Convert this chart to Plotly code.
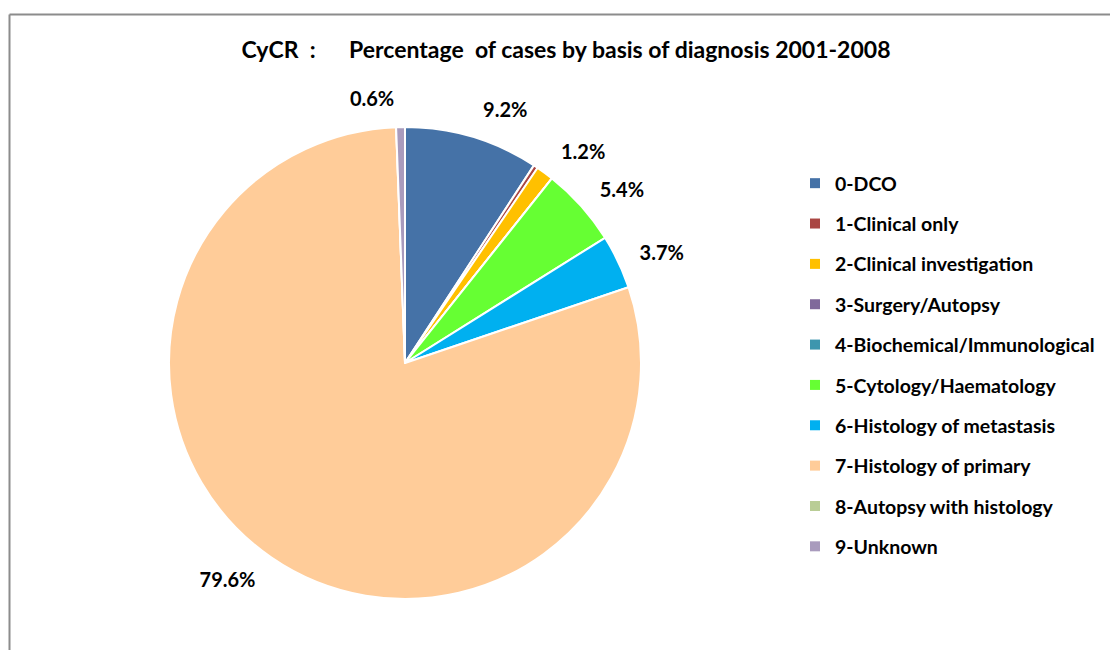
import plotly.graph_objects as go

categories = ["0-DCO", "1-Clinical only", "2-Clinical investigation", "3-Surgery/Autopsy",
              "4-Biochemical/Immunological", "5-Cytology/Haematology", "6-Histology of metastasis",
              "7-Histology of primary", "8-Autopsy with histology", "9-Unknown"]
values = [9.2, 0.3, 1.2, 0.0, 0.0, 5.4, 3.7, 79.6, 0.0, 0.6]
shown_labels = ["9.2%", "", "1.2%", "", "", "5.4%", "3.7%", "79.6%", "", "0.6%"]
colors = ["#4572A7", "#AA4643", "#FFC000", "#80699B", "#3D96AE", "#66FF33", "#00B0F0",
          "#FFCC99", "#B9CD96", "#A99BBD"]

W, H = 1110, 650
FONT = "Lato"
CX, CY, R = 405, 363, 236
R_TXT = 253  # radius of the invisible label ring

def dom(r):
    return dict(x=[(CX - r) / W, (CX + r) / W], y=[1 - (CY + r) / H, 1 - (CY - r) / H])

fig = go.Figure()
# invisible ring that carries the outside percentage labels a little away from the pie
fig.add_trace(go.Pie(
    labels=categories, values=values, text=shown_labels, textinfo="text",
    textposition="outside", sort=False, direction="clockwise", rotation=0,
    marker=dict(colors=["rgba(0,0,0,0)"] * len(values), line=dict(width=0)),
    outsidetextfont=dict(family=FONT, size=20, color="black", weight="bold"),
    domain=dom(R_TXT), showlegend=False, hoverinfo="skip",
))
fig.add_trace(go.Pie(
    labels=categories, values=values, textinfo="none",
    sort=False, direction="clockwise", rotation=0,
    marker=dict(colors=colors, line=dict(color="white", width=2)),
    domain=dom(R), showlegend=False, hoverinfo="label+percent",
))

for i, (c, col) in enumerate(zip(categories, colors)):
    fig.add_trace(go.Scatter(
        x=[None], y=[None], mode="markers", name=c, legendgroup="g%d" % i,
        marker=dict(symbol="square", size=10, color=col), showlegend=True, hoverinfo="skip",
    ))

title_text = ("CyCR&nbsp;&nbsp;:&nbsp;&nbsp;&nbsp;&nbsp;&nbsp;&nbsp;"
              "Percentage&nbsp; of cases by basis of diagnosis 2001-2008")

fig.update_layout(
    width=W, height=H, margin=dict(l=0, r=0, t=0, b=0),
    paper_bgcolor="white", plot_bgcolor="white",
    title=dict(text=title_text, x=566 / W, xanchor="center", y=1 - 50 / H, yanchor="middle",
               font=dict(family=FONT, size=23, color="black", weight="bold")),
    xaxis=dict(visible=False), yaxis=dict(visible=False),
    legend=dict(x=795 / W, xanchor="left", y=1 - 164 / H, yanchor="top",
                font=dict(family=FONT, size=19.5, color="black", weight="bold"),
                tracegroupgap=12, bgcolor="rgba(0,0,0,0)"),
    shapes=[
        dict(type="line", xref="paper", yref="paper", x0=9.5 / W, x1=1.0, y0=1 - 14.5 / H, y1=1 - 14.5 / H,
             line=dict(color="#8C8C8C", width=2)),
        dict(type="line", xref="paper", yref="paper", x0=9.5 / W, x1=9.5 / W, y0=0, y1=1 - 14.5 / H,
             line=dict(color="#8C8C8C", width=2)),
    ],
)

fig.write_html("out.html", config={"displayModeBar": False},
               post_script="document.body.style.margin='0px';")
